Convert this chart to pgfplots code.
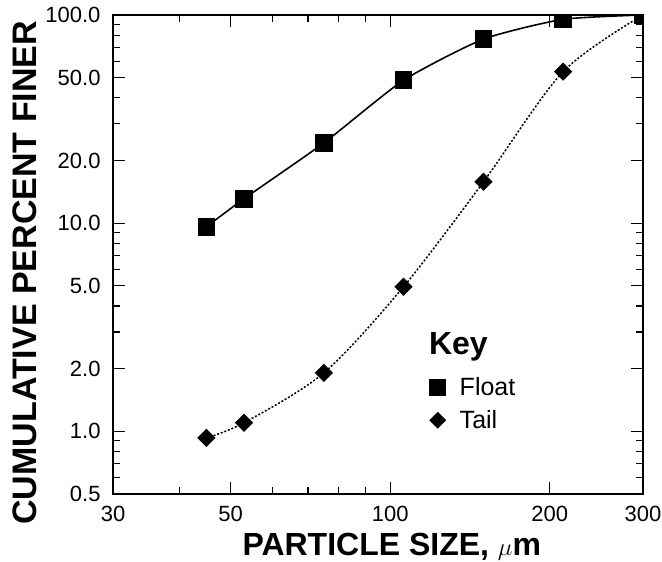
\documentclass[border=0pt]{standalone}
\usepackage{pgfplots}
\pgfplotsset{compat=1.18}
\usepackage{fontspec}
\setmainfont{Liberation Sans}
\begin{document}
\begin{tikzpicture}
\path[use as bounding box] (-113bp,-68bp) rectangle (549bp,494bp);
\begin{axis}[
  at={(0,0)}, anchor=south west,
  scale only axis, width=530bp, height=479bp,
  xmode=log, ymode=log,
  xmin=30, xmax=300, ymin=0.5, ymax=100,
  xtick={30,50,100,200,300}, xticklabels={30,50,100,200,300},
  minor xtick={40,60,70,80,90},
  ytick={0.5,1,2,5,10,20,50,100},
  yticklabels={0.5,1.0,2.0,5.0,10.0,20.0,50.0,100.0},
  minor ytick={0.6,0.7,0.8,0.9,3,4,6,7,8,9,30,40,60,70,80,90},
  tick align=inside,
  major tick length=12bp, minor tick length=7bp,
  axis line style={line width=1.5bp},
  every tick/.style={line width=1.2bp, black},
  ticklabel style={font=\fontsize{22bp}{26bp}\selectfont},
  xticklabel style={yshift=-9bp},
  yticklabel style={xshift=-9bp},
  xlabel={\textbf{PARTICLE SIZE,} $\mu$\textbf{m}},
  ylabel={\textbf{CUMULATIVE PERCENT FINER}},
  xlabel style={font=\fontsize{32bp}{36bp}\selectfont, at={(axis description cs:0.526,-0.111)}, anchor=center},
  ylabel style={font=\fontsize{34bp}{38bp}\selectfont, at={(axis description cs:-0.166,0.462)}, anchor=center},
  clip marker paths=true,
  legend style={draw=none, fill=none, inner sep=0pt, at={(rel axis cs:0.597,0.188)}, anchor=west,
    font=\fontsize{25bp}{29bp}\selectfont, row sep=9bp},
  legend cell align=left,
]
\addplot[black, line width=1.6bp, smooth, tension=0.35, mark=square*, mark size=8bp, mark options={solid}, forget plot]
  coordinates {(45,9.6) (53,13.1) (75,24.3) (106,48.6) (150,76.6) (212,95.3) (300,100)};
\addplot[black, line width=1.5bp, smooth, dash pattern=on 2bp off 1.8bp, mark=square*, mark size=5.7bp, mark options={solid, rotate=45}, forget plot]
  coordinates {(45,0.93) (53,1.1) (75,1.91) (106,4.95) (150,15.8) (212,53.4) (300,100)};
\addlegendimage{only marks, mark=square*, mark size=8bp, black}
\addlegendentry{\hspace{12bp}Float}
\addlegendimage{only marks, mark=square*, mark size=5.7bp, mark options={rotate=45}, black}
\addlegendentry{\hspace{12bp}Tail}
\node[anchor=base west, font=\bfseries\fontsize{32bp}{36bp}\selectfont, inner sep=0pt] at (rel axis cs:0.596,0.292) {Key};
\end{axis}
\end{tikzpicture}
\end{document}
